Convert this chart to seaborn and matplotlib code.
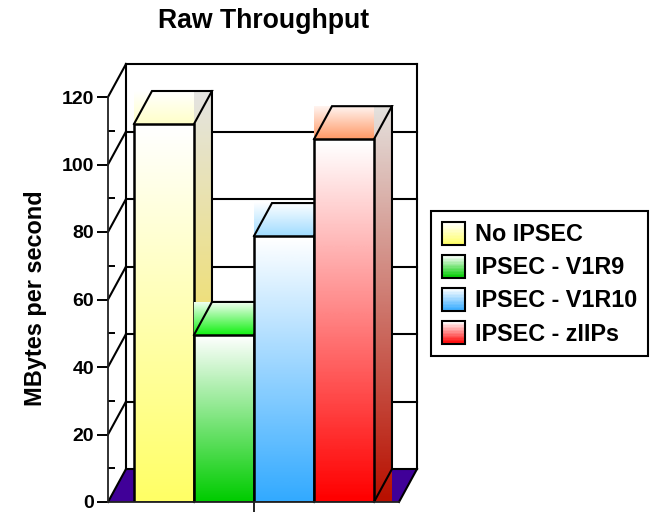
import numpy as np
import pandas as pd
import matplotlib
matplotlib.use("Agg")
import matplotlib.pyplot as plt
from matplotlib.colors import LinearSegmentedColormap
from matplotlib.legend_handler import HandlerBase
from matplotlib.patches import Patch, Polygon, Rectangle
import seaborn as sns

title = "Raw Throughput"
ylabel = "MBytes per second"
series = ["No IPSEC", "IPSEC - V1R9", "IPSEC - V1R10", "IPSEC - zIIPs"]
values = [112.0, 49.5, 78.8, 107.5]
front_top = ["#ffffff", "#ffffff", "#ffffff", "#ffffff"]
front_bottom = ["#ffff66", "#00cc00", "#33aaff", "#ff0000"]
roof_top = ["#ffffff", "#f0fff0", "#ffffff", "#fff4f0"]
roof_bottom = ["#ffffc8", "#11f011", "#a0dcff", "#ff9966"]
side_top = ["#e4e4e0", "#d8e8d8", "#d8e4ee", "#e4e0dc"]
side_bottom = ["#f8dc20", "#009900", "#1c78c8", "#b81000"]
floor_color = "#400098"
major = [0, 20, 40, 60, 80, 100, 120]
minor = [10, 30, 50, 70, 90, 110]

W, H = 654, 512
sns.set_theme(style="white", rc={"font.family": ["Liberation Sans", "DejaVu Sans"], "font.weight": "bold"})
fig = plt.figure(figsize=(W / 100, H / 100), dpi=100)

# Front plane of the 3-D box: x 108..399 px, y 502..97 px
ax = fig.add_axes([108 / W, 1 - 502 / H, (399 - 108) / W, (502 - 97) / H])
df = pd.DataFrame({"series": series, "value": values})
sns.barplot(data=df, x="series", y="value", hue="series", palette=front_bottom, width=1.0,
            legend=False, dodge=False, ax=ax, zorder=5, edgecolor="black", linewidth=1.8)
ax.set_ylim(0, 120)
ax.set_xlim(-0.933, 3.917)
DX, DY = 18 / 60, 33 / (405 / 120)  # depth, in data units


def gradient(x0, x1, y_low, y_high, c_top, c_bottom, z):
    cmap = LinearSegmentedColormap.from_list("g", [c_top, c_bottom])
    return ax.imshow(np.linspace(0, 1, 64)[:, None], cmap=cmap, aspect="auto", origin="upper",
                     extent=(x0, x1, y_low, y_high), zorder=z, clip_on=False, interpolation="bilinear")


xl, xr = ax.get_xlim()
line = dict(color="black", lw=1.5, clip_on=False, solid_capstyle="projecting", solid_joinstyle="miter")
ymax = 120

# floor
ax.add_patch(Polygon([(xl, 0), (xl + DX, DY), (xr + DX, DY), (xr, 0)], closed=True,
                     fc=floor_color, ec="none", clip_on=False, zorder=1))
# back wall
for m in major:
    ax.plot([xl + DX, xr + DX], [m + DY, m + DY], zorder=2, **line)
ax.plot([xl + DX, xl + DX], [DY, ymax + DY], zorder=2, **line)
ax.plot([xr + DX, xr + DX], [DY, ymax + DY], zorder=2, **line)
# side wall diagonals
for m in major:
    ax.plot([xl, xl + DX], [m, m + DY], zorder=2, **line)
ax.plot([xr, xr + DX], [0, DY], zorder=2, **line)

# bars: front gradient + roof + side, painted left to right
for i, (bar, v) in enumerate(zip(ax.patches, values)):
    z = 5 + i
    x0, x1 = bar.get_x(), bar.get_x() + bar.get_width()
    bar.set_zorder(z + 0.5)
    bar.set_facecolor("none")
    gradient(x0, x1, 0, v, front_top[i], front_bottom[i], z)
    gradient(x0, x1, v, v + DY, roof_top[i], roof_bottom[i], z)
    gradient(x1, x1 + DX, 0, v + DY, side_top[i], side_bottom[i], z)
    ax.plot([x0, x0 + DX, x1 + DX, x1], [v, v + DY, v + DY, v], zorder=z + 0.6, **line)
    ax.plot([x1 + DX, x1 + DX, x1], [v + DY, DY, 0], zorder=z + 0.6, **line)
ax.set_xlim(xl, xr)
ax.set_ylim(0, 120)

# axes
sns.despine(ax=ax, top=True, right=True, bottom=False, left=False)
for s in ("left", "bottom"):
    ax.spines[s].set_linewidth(1.3)
    ax.spines[s].set_color("#222222")
    ax.spines[s].set_zorder(20)
ax.set_yticks(major)
ax.set_yticks(minor, minor=True)
ax.tick_params(axis="y", which="major", direction="out", length=8, width=1.4, labelsize=14,
               left=True, pad=2, color="black", labelcolor="black")
ax.tick_params(axis="y", which="minor", direction="in", length=5, width=1.4, left=True, color="black")
ax.set_xticks([1.5])
ax.set_xticklabels([""])
ax.tick_params(axis="x", direction="out", length=7, width=1.2, bottom=True, color="black")
ax.set_xlabel("")
ax.set_ylabel("")
fig.text(36 / W, 1 - 298 / H, ylabel, fontsize=16.9, fontweight="bold", color="black", rotation=90,
         ha="center", va="center")
fig.text(264 / W, 1 - 21 / H, title, fontsize=19.2, fontweight="bold", color="black", ha="center", va="center")


class GradHandler(HandlerBase):
    def create_artists(self, legend, orig, xd, yd, w, h, fontsize, trans):
        i = series.index(orig.get_label())
        cmap = LinearSegmentedColormap.from_list("l", [front_top[i], front_bottom[i]])
        n = 16
        out = [Rectangle((-xd, -yd + h * k / n), w, h / n + 0.3, fc=cmap(1 - k / (n - 1)), ec="none", transform=trans)
               for k in range(n)]
        out.append(Rectangle((-xd, -yd), w, h, fc="none", ec="black", lw=1.5, transform=trans))
        return out


handles = [Patch(label=s) for s in series]
leg = ax.legend(handles=handles, handler_map={Patch: GradHandler()}, loc="upper left",
                bbox_to_anchor=(431 / W, 1 - 211 / H), bbox_transform=fig.transFigure, borderaxespad=0,
                prop={"family": "Liberation Sans", "weight": "bold", "size": 16.8}, frameon=True, fancybox=False,
                edgecolor="black", facecolor="white", framealpha=1, borderpad=0.46, labelcolor="black",
                handlelength=1.0, handleheight=1.15, handletextpad=0.41, labelspacing=0.37)
leg.get_frame().set_linewidth(1.5)
leg.set_zorder(30)
fig.savefig("out.png", dpi=100)
